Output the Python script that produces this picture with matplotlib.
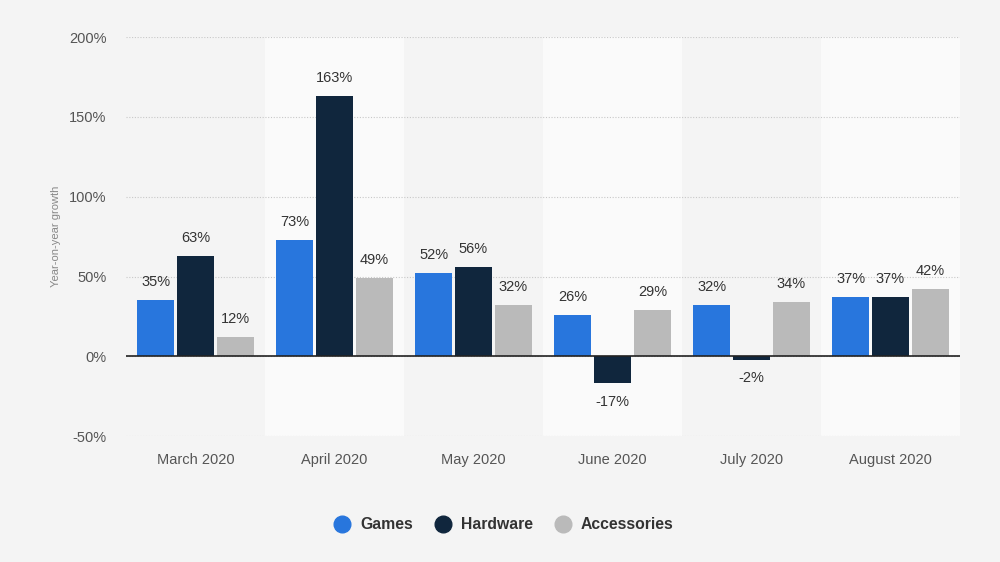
import numpy as np
import matplotlib.pyplot as plt
from matplotlib.lines import Line2D

months = ['March 2020', 'April 2020', 'May 2020', 'June 2020', 'July 2020', 'August 2020']
games = [35, 73, 52, 26, 32, 37]
hardware = [63, 163, 56, -17, -2, 37]
accessories = [12, 49, 32, 29, 34, 42]

series_names = ['Games', 'Hardware', 'Accessories']
colors = ['#2876dd', '#10263d', '#bababa']

plt.rcParams['font.family'] = ['Liberation Sans', 'DejaVu Sans']

fig = plt.figure(figsize=(10, 5.62), dpi=100)
fig.patch.set_facecolor('#f4f4f4')
ax = fig.add_axes([0.126, 0.224, 0.834, 0.71])
ax.set_facecolor('#f4f4f4')

x = np.arange(len(months))
width = 0.265
gap = 0.022

# alternating column bands
for i in x:
    if i % 2 == 1:
        ax.axvspan(i - 0.5, i + 0.5, color='#fafafa', zorder=0, lw=0)

for k, (vals, col) in enumerate(zip([games, hardware, accessories], colors)):
    pos = x + (k - 1) * (width + gap)
    bars = ax.bar(pos, vals, width, color=col, zorder=3)
    for b, v in zip(bars, vals):
        if v >= 0:
            ax.annotate(f'{v}%', (b.get_x() + b.get_width() / 2, v), xytext=(0, 8),
                        textcoords='offset points', ha='center', va='bottom',
                        fontsize=10.5, color='#333333', zorder=4)
        else:
            ax.annotate(f'{v}%', (b.get_x() + b.get_width() / 2, v), xytext=(0, -8),
                        textcoords='offset points', ha='center', va='top',
                        fontsize=10.5, color='#333333', zorder=4)

ax.set_xlim(-0.5, len(months) - 0.5)
ax.set_ylim(-50, 200)
ax.set_yticks([-50, 0, 50, 100, 150, 200])
ax.set_yticklabels([f'{t}%' for t in [-50, 0, 50, 100, 150, 200]])
ax.set_xticks(x)
ax.set_xticklabels(months)
ax.tick_params(axis='both', length=0, labelsize=10.5, colors='#555555')
ax.tick_params(axis='y', pad=14)
ax.tick_params(axis='x', pad=12)

ax.grid(axis='y', color='#c8c8c8', linestyle=(0, (1, 1.5)), linewidth=0.8, zorder=1)
ax.axhline(0, color='#222222', linewidth=1.2, zorder=5)
for s in ax.spines.values():
    s.set_visible(False)

ax.set_ylabel('Year-on-year growth', fontsize=8, color='#888888', labelpad=6)

handles = [Line2D([0], [0], marker='o', linestyle='', markersize=12,
                  markerfacecolor=c, markeredgecolor=c) for c in colors]
leg = fig.legend(handles, series_names, loc='center', bbox_to_anchor=(0.5, 0.066),
                 ncol=3, frameon=False, handletextpad=0.15, columnspacing=0.9,
                 prop={'weight': 'bold', 'size': 11.3})
for t in leg.get_texts():
    t.set_color('#333333')

fig.savefig('out.png', dpi=100, facecolor=fig.get_facecolor())
